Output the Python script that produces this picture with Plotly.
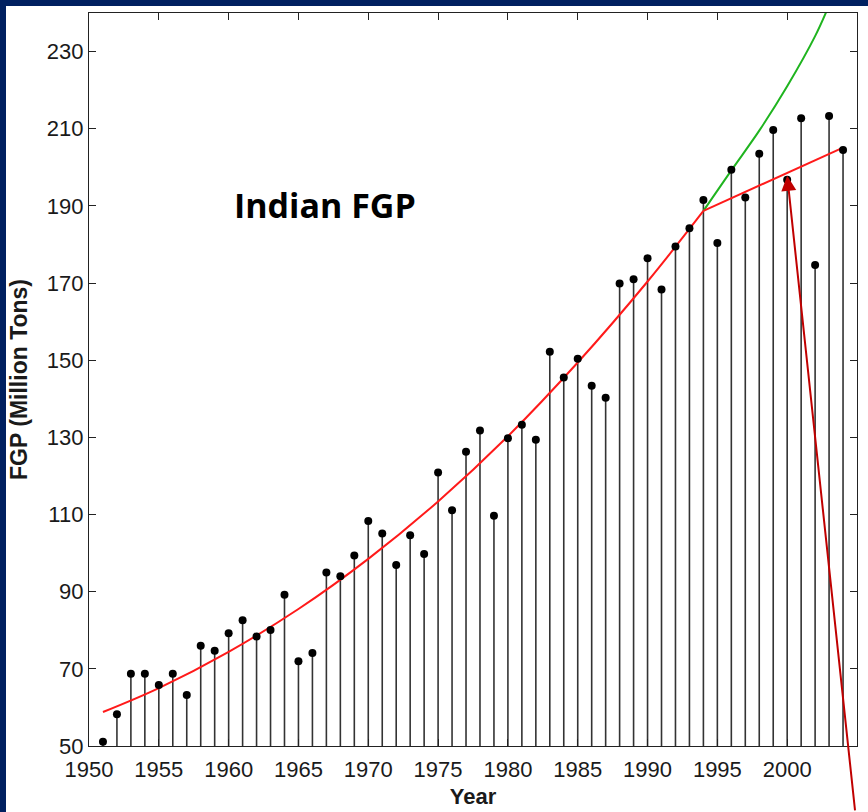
import plotly.graph_objects as go

# Indian food-grain production (million tons), 1951-2004
years = list(range(1951, 2005))
fgp = [
    51.1, 58.2, 68.7, 68.7, 65.8, 68.7, 63.2, 76.0, 74.7, 79.2,
    82.6, 78.4, 80.1, 89.2, 72.0, 74.1, 95.0, 94.0, 99.4, 108.3,
    105.1, 96.9, 104.6, 99.8, 120.9, 111.1, 126.3, 131.8, 109.7, 129.8,
    133.3, 129.4, 152.2, 145.5, 150.4, 143.4, 140.3, 169.9, 171.0, 176.4,
    168.3, 179.5, 184.2, 191.5, 180.4, 199.4, 192.2, 203.5, 209.7, 196.8,
    212.7, 174.7, 213.3, 204.5,
]

# Smooth trend up to the 1994 break
trend_years = [1951, 1955, 1960, 1965, 1970, 1975, 1980, 1985, 1990, 1994]
trend_vals = [58.8, 65.0, 74.4, 85.5, 98.5, 113.4, 130.3, 149.4, 170.4, 188.7]

# Slower trend after the break
late_years = [1994, 2004]
late_vals = [188.7, 205.1]

# Continuation of the early trend after 1994
proj_years = [1994, 1996, 1998, 2000, 2002, 2003]
proj_vals = [188.7, 199.2, 209.5, 221.0, 234.0, 242.0]

x_ticks = list(range(1950, 2001, 5))
y_ticks = list(range(50, 231, 20))
baseline = 50
arrow_year, arrow_val = 2000, 197.8

NAVY = "#002060"
W, H = 868, 812
ML, MR, MT, MB = 89, 11, 13, 66
PW, PH = W - ML - MR, H - MT - MB

# Stems from the baseline to each value
stem_x, stem_y = [], []
for yr, v in zip(years, fgp):
    stem_x += [yr, yr, None]
    stem_y += [baseline, v, None]

fig = go.Figure()
fig.add_trace(go.Scatter(x=stem_x, y=stem_y, mode="lines",
                         line=dict(color="#333333", width=1.6),
                         hoverinfo="skip", showlegend=False))
fig.add_trace(go.Scatter(x=proj_years, y=proj_vals, mode="lines",
                         line=dict(color="#1fb41f", width=2, shape="spline"),
                         showlegend=False))
fig.add_trace(go.Scatter(x=trend_years, y=trend_vals, mode="lines",
                         line=dict(color="#ff1a1a", width=2, shape="spline"),
                         showlegend=False))
fig.add_trace(go.Scatter(x=late_years, y=late_vals, mode="lines",
                         line=dict(color="#ff1a1a", width=2),
                         showlegend=False))
fig.add_trace(go.Scatter(x=years, y=fgp, mode="markers",
                         marker=dict(color="black", size=8),
                         showlegend=False))


def px_x(p):
    return (p - ML) / PW


def px_y(p):
    return (H - MB - p) / PH


# Dark frame strips along the top and left edges
fig.add_shape(type="rect", xref="paper", yref="paper", layer="below",
              x0=px_x(0), x1=px_x(W), y0=px_y(6), y1=px_y(0),
              fillcolor=NAVY, line_width=0)
fig.add_shape(type="rect", xref="paper", yref="paper", layer="below",
              x0=px_x(0), x1=px_x(6), y0=px_y(H), y1=px_y(0),
              fillcolor=NAVY, line_width=0)

fig.add_annotation(x=1966.9, y=190.2, xref="x", yref="y", text="<b>Indian FGP</b>",
                   showarrow=False, xanchor="center", yanchor="middle",
                   font=dict(family="Open Sans", size=34, color="black"))

fig.add_annotation(x=arrow_year, y=arrow_val, xref="x", yref="y", text="",
                   showarrow=True, ax=68, ay=636, arrowhead=2, arrowsize=1.5,
                   arrowwidth=2, arrowcolor="#c00000")

FONT = "Liberation Sans, Arial"
axis_font = dict(family=FONT, size=22, color="#1a1a1a")
common = dict(showgrid=False, zeroline=False, showline=True, linecolor="#222",
              linewidth=1.3, mirror="ticks", ticks="inside", ticklen=7,
              tickcolor="#222", tickwidth=1.3, tickfont=axis_font,
              automargin=False)

fig.update_xaxes(range=[1950, 2005], tickvals=x_ticks, ticklabelstandoff=3, **common,
                 title=dict(text="<b>Year</b>", standoff=8,
                            font=dict(family=FONT, size=22, color="#1a1a1a")))
fig.update_yaxes(range=[50, 240], tickvals=y_ticks, **common,
                 title=dict(text="<b>FGP (Million Tons)</b>", standoff=12,
                            font=dict(family=FONT, size=23, color="#1a1a1a")))

fig.update_layout(width=W, height=H, margin=dict(l=ML, r=MR, t=MT, b=MB),
                  paper_bgcolor="white", plot_bgcolor="white")

fig.write_html("out.html")
